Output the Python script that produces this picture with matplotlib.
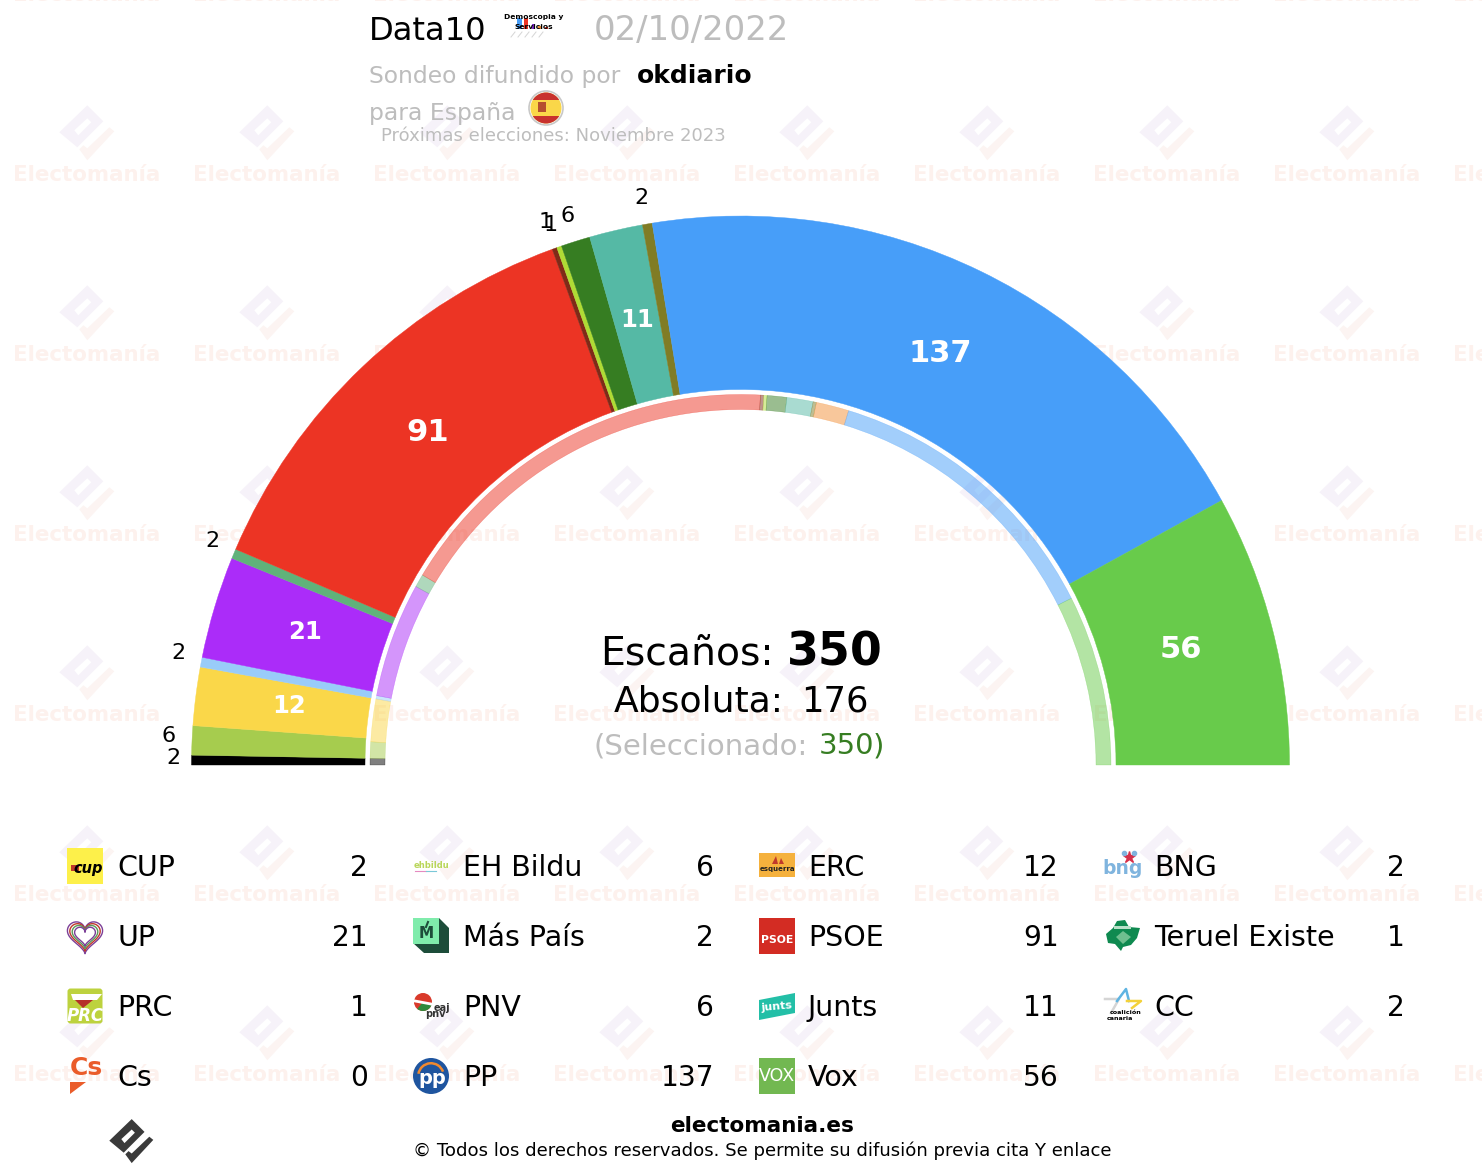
import numpy as np
import matplotlib
matplotlib.use('Agg')
import matplotlib.pyplot as plt
from matplotlib.patches import Wedge, Rectangle, Polygon, Circle, FancyBboxPatch

# escaños de la encuesta, de izquierda a derecha
parties = ['CUP', 'EH Bildu', 'ERC', 'BNG', 'UP', 'Más País', 'PSOE', 'PRC', 'Teruel Existe', 'PNV', 'Junts', 'CC', 'PP', 'Vox']
seats = [2, 6, 12, 2, 21, 2, 91, 1, 1, 6, 11, 2, 137, 56]
colors = ['#000000', '#a6cc4e', '#fad749', '#99ccf9', '#ab2cf9', '#60b27a', '#ec3424', '#7f2a18', '#afdb35', '#367d22',
          '#55b9a5', '#807c25', '#479ef9', '#68cb4b']

# anillo interior: escaños anteriores
prev_parties = ['CUP', 'EH Bildu', 'ERC', 'BNG', 'UP', 'Más País', 'PSOE', 'PRC', 'Teruel Existe', 'PNV', 'Junts', 'CC', 'Cs', 'PP', 'Vox']
prev_seats = [2, 5, 13, 1, 35, 4, 121, 1, 1, 6, 8, 1, 10, 90, 52]
prev_colors = ['#000000', '#a6cc4e', '#fad749', '#99ccf9', '#ab2cf9', '#60b27a', '#ec3424', '#7f2a18', '#afdb35', '#367d22',
               '#55b9a5', '#807c25', '#f39139', '#479ef9', '#68cb4b']

# leyenda por columnas
legend_names = [['CUP', 'UP', 'PRC', 'Cs'], ['EH Bildu', 'Más País', 'PNV', 'PP'],
                ['ERC', 'PSOE', 'Junts', 'Vox'], ['BNG', 'Teruel Existe', 'CC']]
legend_values = [[2, 21, 1, 0], [6, 2, 6, 137], [12, 91, 11, 56], [2, 1, 2]]

TOTAL = 350
ABSOLUTA = 176
cx, cy = 740.5, 765
FAM = 'DejaVu Sans'
GREY = '#bdbdbd'

fig = plt.figure(figsize=(14.82, 11.74), dpi=100)
ax = fig.add_axes([0, 0, 1, 1])
ax.set_xlim(0, 1482)
ax.set_ylim(1174, 0)
ax.axis('off')


def txt(x, y, s, size, color='black', weight='normal', ha='left', va='baseline', z=10, **kw):
    return ax.text(x, y, s, fontsize=size, color=color, fontweight=weight, ha=ha, va=va, family=FAM, zorder=z, **kw)


def mark(x, y, scale, body_color, check_color, hole_color='white', z=1):
    # logo de electomania
    body = np.array([(0, -27), (16, -11), (-10, 15), (-28, 0)]) * scale + (x, y)
    hole = np.array([(-13, -2), (0, -14), (4, -10), (-9, 3)]) * scale + (x, y)
    check = np.array([(-8, 17), (0, 28), (27, -1), (22, -5), (0, 16), (-4, 13)]) * scale + (x, y)
    ax.add_patch(Polygon(body, fc=body_color, ec='none', zorder=z))
    ax.add_patch(Polygon(hole, fc=hole_color, ec='none', zorder=z))
    ax.add_patch(Polygon(check, fc=check_color, ec='none', zorder=z))


# marca de agua
for wx in range(-93, 1600, 180):
    for wy in range(-7, 1100, 180):
        mark(wx + 0.3, wy - 40.7, 1, '#f6f2f9', '#fcf4f2')
        txt(wx, wy + 8, 'Electomanía', 15.4, color='#fdf1ed', weight='bold', ha='center', z=1)

# hemiciclo
start = 0
for seat, col in zip(seats, colors):
    t1 = 180 + start / TOTAL * 180
    t2 = 180 + (start + seat) / TOTAL * 180
    ax.add_patch(Wedge((cx, cy), 549, t1, t2, width=173.5, fc=col, ec=col, lw=0.3, zorder=3))
    start += seat

start = 0
for seat, col in zip(prev_seats, prev_colors):
    t1 = 180 + start / TOTAL * 180
    t2 = 180 + (start + seat) / TOTAL * 180
    ax.add_patch(Wedge((cx, cy), 370.5, t1, t2, width=15, fc=matplotlib.colors.to_rgba(col, 0.5),
                       ec=matplotlib.colors.to_rgba(col, 0.5), lw=0.3, zorder=3))
    start += seat

# etiquetas de escaños
start = 0
nudge = {'CUP': (5, 3), 'EH Bildu': (-1, 2), 'Teruel Existe': (0, 3), 'PRC': (0, -2)}
for name, seat in zip(parties, seats):
    ang = np.radians((start + seat / 2) / TOTAL * 180)
    if seat > 6:
        x = cx - 455 * np.cos(ang)
        y = cy - 455 * np.sin(ang) - 2
        size = 22 if seat > 30 else 17.5
        txt(x, y, str(seat), size, color='white', weight='bold', ha='center', va='center')
    else:
        dx, dy = nudge.get(name, (0, 0))
        x = cx - 570 * np.cos(ang) - 2 + dx
        y = cy - 570 * np.sin(ang) - 5 + dy
        txt(x, y, str(seat), 16, ha='center', va='center')
    start += seat

# centro
txt(600, 665, 'Escaños:', 28.4)
txt(787, 665, str(TOTAL), 33, weight='bold')
txt(614, 711, 'Absoluta:', 26)
txt(801, 711, str(ABSOLUTA), 25.5)
txt(594, 754, '(Seleccionado:', 21)
ax.texts[-1].set_color(GREY)
txt(819, 754, str(TOTAL), 21, color='#367d22')
txt(873, 754, ')', 21, color='#367d22')

# cabecera
txt(369, 40, 'Data10', 23.2)
txt(594, 40, '02/10/2022', 24.4, color=GREY)
txt(369, 83, 'Sondeo difundido por', 16.9, color=GREY)
txt(637, 83, 'okdiario', 18, weight='bold')
txt(369, 120, 'para España', 16.9, color=GREY)
txt(381, 141, 'Próximas elecciones: Noviembre 2023', 13, color=GREY)

# logo de la encuestadora
for bx, bw, bh, bc in [(517, 5, 11, '#479ef9'), (524, 4, 11, '#ec3424'), (532, 3, 5, '#8a2be2'),
                       (538, 3, 3, '#f39139'), (545, 3, 2, '#ec3424')]:
    ax.add_patch(Rectangle((bx, 29 - bh), bw, bh, fc=bc, zorder=5))
for k in range(5):
    ax.plot([515 + 7 * k, 511 + 7 * k], [32, 37], color='#d5d5d5', lw=0.7, zorder=5)
txt(534, 19, 'Demoscopia y', 5.4, weight='bold', ha='center')
txt(534, 29, 'Servicios', 5.4, weight='bold', ha='center')

# bandera
ax.add_patch(Circle((546, 108), 17, fc='white', ec='#c8c8c8', lw=1.2, zorder=5))
ax.add_patch(Circle((546, 108), 15.5, fc='#fad749', zorder=5))
for fy, fh in [(91, 9), (116, 9)]:
    band = Rectangle((528, fy), 36, fh, fc='#c8322e', zorder=6)
    ax.add_patch(band)
    band.set_clip_path(Circle((546, 108), 15.5, transform=ax.transData))
ax.add_patch(Rectangle((538, 102), 8, 10, fc='#b5502f', zorder=7))


# logos de la leyenda
def logo_cup(x, y):
    ax.add_patch(Rectangle((x - 18, y - 18), 36, 36, fc='#fdf04a', zorder=5))
    ax.add_patch(Rectangle((x - 14, y - 1), 8, 6, fc='#c0392b', zorder=6))
    txt(x + 3, y + 3, 'cup', 10.5, weight='bold', ha='center', style='italic', va='center')


def logo_up(x, y):
    tt = np.linspace(0, 2 * np.pi, 80)
    hx = 16 * np.sin(tt) ** 3
    hy = -(13 * np.cos(tt) - 5 * np.cos(2 * tt) - 2 * np.cos(3 * tt) - np.cos(4 * tt))
    for k, col in zip([1.1, 0.95, 0.8, 0.65], ['#7c3f98', '#c0392b', '#5a9a5a', '#7c3f98']):
        ax.plot(x + hx * k, y - 1 + hy * k, color=col, lw=1, zorder=5)


def logo_prc(x, y):
    ax.add_patch(FancyBboxPatch((x - 16, y - 16), 32, 32, boxstyle='round,pad=1.5,rounding_size=3', fc='#bdd23e', ec='none', zorder=5))
    ax.add_patch(Polygon([(x - 14, y - 12), (x + 17, y - 12), (x + 12, y - 6), (x - 12, y - 6)], fc='white', zorder=6))
    ax.add_patch(Polygon([(x - 10, y - 6), (x + 8, y - 6), (x - 2, y + 2)], fc='#b5302a', zorder=6))
    txt(x, y + 10, 'PRC', 12, color='white', weight='bold', ha='center', va='center', style='italic')


def logo_cs(x, y):
    txt(x + 1, y - 8, 'Cs', 18, color='#ea5c2a', weight='bold', ha='center', va='center')
    ax.add_patch(Polygon([(x - 15, y + 6), (x + 1, y + 6), (x - 15, y + 18)], fc='#ea5c2a', zorder=6))


def logo_bildu(x, y):
    txt(x, y - 1, 'ehbildu', 6, color='#b9d65a', weight='bold', ha='center', va='center')
    ax.plot([x - 16, x - 5], [y + 5, y + 5], color='#e58ac0', lw=0.8, zorder=6)
    ax.plot([x - 5, x + 5], [y + 5, y + 5], color='#7ac8d8', lw=0.8, zorder=6)


def logo_mp(x, y):
    ax.add_patch(Polygon([(x - 18, y - 18), (x + 8, y - 18), (x + 18, y - 8), (x + 18, y + 17), (x - 7, y + 17), (x - 18, y + 7)], fc='#1d4d3a', zorder=5))
    ax.add_patch(Rectangle((x - 18, y - 18), 26, 26, fc='#80ecac', zorder=6))
    txt(x - 5, y - 2, 'M', 11, color='#1d4d3a', weight='bold', ha='center', va='center')
    ax.plot([x - 5, x - 3], [y - 9, y - 14], color='#1d4d3a', lw=1.5, zorder=7)


def logo_pnv(x, y):
    ax.add_patch(Circle((x - 8, y - 4), 9, fc='#d93a2b', zorder=5))
    ax.add_patch(Wedge((x - 8, y - 4), 9, 10, 130, fc='#2f8a3c', zorder=6))
    ax.plot([x - 16, x], [y - 5, y - 2], color='white', lw=2, zorder=7)
    txt(x + 11, y + 2, 'eaj', 7, weight='bold', ha='center', va='center', color='#333333')
    txt(x + 4, y + 8, 'pnv', 7, weight='bold', ha='center', va='center', color='#333333')


def logo_pp(x, y):
    ax.add_patch(Circle((x, y), 18, fc='#1f559f', zorder=5))
    ax.add_patch(Wedge((x, y), 14, 190, 340, width=2.5, fc='#f0892f', zorder=6))
    txt(x + 1, y + 2, 'pp', 14, color='white', weight='bold', ha='center', va='center')


def logo_erc(x, y):
    ax.add_patch(Rectangle((x - 18, y - 13), 36, 24, fc='#f5b13d', zorder=5))
    ax.add_patch(Polygon([(x - 5, y - 2), (x - 1, y - 10), (x + 1, y - 2)], fc='#c0392b', zorder=6))
    ax.add_patch(Polygon([(x + 2, y - 2), (x + 4, y - 8), (x + 7, y - 2)], fc='#c0392b', zorder=6))
    txt(x, y + 3, 'esquerra', 5, weight='bold', ha='center', va='center', color='#222222')


def logo_psoe(x, y):
    ax.add_patch(Rectangle((x - 18, y - 18), 36, 36, fc='#d32c23', zorder=5))
    txt(x, y + 4, 'PSOE', 7.8, color='white', weight='bold', ha='center', va='center')


def logo_junts(x, y):
    ax.add_patch(Polygon([(x - 18, y - 6), (x + 18, y - 13), (x + 18, y + 7), (x - 18, y + 14)], fc='#23bfa7', zorder=5))
    txt(x, y + 1, 'junts', 8, color='white', weight='bold', ha='center', va='center', rotation=5)


def logo_vox(x, y):
    ax.add_patch(Rectangle((x - 18, y - 18), 36, 36, fc='#72b851', zorder=5))
    txt(x, y, 'VOX', 12.5, color='white', ha='center', va='center')


def logo_bng(x, y):
    txt(x, y + 2, 'bng', 13.5, color='#7fb4de', weight='bold', ha='center', va='center')
    ax.plot(x + 6, y - 9, marker='*', color='#d5304a', ms=9, zorder=11)
    ax.plot(x + 1, y - 13, marker='o', color='#7fb4de', ms=3, zorder=11)
    ax.plot(x + 11, y - 13, marker='o', color='#7fb4de', ms=3, zorder=11)


def logo_teruel(x, y):
    pts = [(-17, -2), (-10, -8), (-6, -15), (2, -16), (6, -9), (17, -8), (14, 2), (8, 9), (0, 11), (-2, 15), (-8, 8), (-15, 7)]
    ax.add_patch(Polygon(np.array(pts) + (x, y), fc='#0f8a50', zorder=5))
    ax.add_patch(Rectangle((x - 9, y - 10), 17, 3, fc='#b8e0c8', zorder=6))
    ax.add_patch(Polygon([(x, y - 5), (x + 8, y + 1), (x, y + 8), (x - 7, y + 1)], fc='#6fbf8f', zorder=6))


def logo_cc(x, y):
    ax.plot([x - 18, x - 4, x - 12], [y - 7, y - 7, y + 7], color='#d5d5d5', lw=1.8, zorder=5)
    ax.plot([x - 6, x + 3, x + 6], [y - 5, y - 17, y - 5], color='#5fb4e2', lw=1.8, zorder=5)
    ax.plot([x + 4, x + 18, x + 9], [y - 5, y - 5, y + 2], color='#f3d13a', lw=1.8, zorder=5)
    txt(x + 3, y + 7, 'coalición', 4.6, weight='bold', ha='center', va='center')
    txt(x - 3, y + 13, 'canaria', 4.6, weight='bold', ha='center', va='center')


logos = {'CUP': logo_cup, 'UP': logo_up, 'PRC': logo_prc, 'Cs': logo_cs, 'EH Bildu': logo_bildu, 'Más País': logo_mp,
         'PNV': logo_pnv, 'PP': logo_pp, 'ERC': logo_erc, 'PSOE': logo_psoe, 'Junts': logo_junts, 'Vox': logo_vox,
         'BNG': logo_bng, 'Teruel Existe': logo_teruel, 'CC': logo_cc}

# leyenda
logo_x = [85, 431, 777, 1123]
name_x = [117, 463, 808, 1154]
value_x = [368, 714, 1059, 1405]
row_y = [866, 936, 1006, 1076]
for c in range(4):
    for r, (name, value) in enumerate(zip(legend_names[c], legend_values[c])):
        logos[name](logo_x[c], row_y[r])
        txt(name_x[c], row_y[r] + 10, name, 20.5)
        txt(value_x[c], row_y[r] + 10, str(value), 20.2, ha='right')

# pie
mark(131.7, 1140.7, 0.8, '#3a3a3a', '#3a3a3a', z=5)
txt(762, 1132, 'electomania.es', 15.5, weight='bold', ha='center')
txt(762, 1156, '© Todos los derechos reservados. Se permite su difusión previa cita Y enlace', 13.05, ha='center')

fig.savefig('out.png', dpi=100, facecolor='white')
